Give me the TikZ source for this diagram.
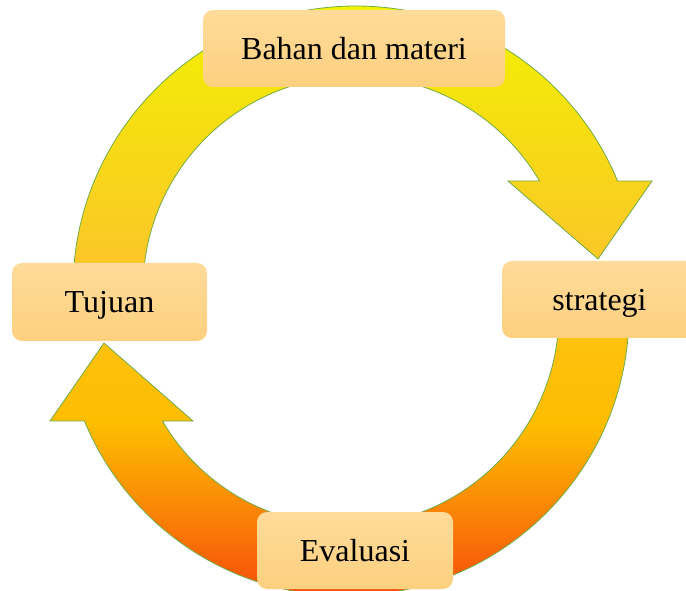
\documentclass[tikz,border=0pt]{standalone}
\usepackage{fontspec}
\setmainfont{Liberation Serif}
\definecolor{edge}{HTML}{70AD47}
\definecolor{yTop}{HTML}{F2F200}
\definecolor{yBot}{HTML}{FCC22C}
\definecolor{bA}{HTML}{FDC712}
\definecolor{bB}{HTML}{FDC20E}
\definecolor{bC}{HTML}{FDBD00}
\definecolor{bD}{HTML}{FCA004}
\definecolor{bE}{HTML}{FA7808}
\definecolor{bF}{HTML}{F85A0A}
\definecolor{bG}{HTML}{F64E0A}
\definecolor{boxTop}{HTML}{FFDB9A}
\definecolor{boxBot}{HTML}{FCD07E}
\pgfdeclareverticalshading{lowerarrow}{100bp}{color(0bp)=(bG); color(25bp)=(bG); color(28.7bp)=(bF); color(36.7bp)=(bE); color(47.3bp)=(bD); color(55.2bp)=(bC); color(69.7bp)=(bB); color(75bp)=(bA); color(100bp)=(bA)}
\tikzset{
  ringarrow/.style={draw=edge, line width=0.8pt, line join=miter},
  labelbox/.style={rounded corners=10pt, top color=boxTop, bottom color=boxBot,
    inner sep=0pt, minimum height=77pt, text height=22pt, text depth=0pt,
    font=\fontsize{32}{38}\selectfont, text=black}
}
\begin{document}
\begin{tikzpicture}[x=1pt,y=1pt]
\useasboundingbox (0,0) rectangle (686,590);
\clip (0,0) rectangle (686,590);
\coordinate (c1) at (356,301);
\coordinate (c2) at (346,277);
% upper arrow
\path[ringarrow, top color=yTop, bottom color=yBot]
  ([shift={(180:283)}]c1) arc[start angle=180, end angle=22.43, radius=283]
  -- (652,409) -- (598,331) -- (508,409)
  -- ([shift={(30.47:213)}]c1) arc[start angle=30.47, end angle=180, radius=213] -- cycle;
% lower arrow
\path[ringarrow, shading=lowerarrow]
  ([shift={(0:283)}]c2) arc[start angle=0, end angle=-157.57, radius=283]
  -- (50,169) -- (104,247) -- (193,169)
  -- ([shift={(-149.53:213)}]c2) arc[start angle=-149.53, end angle=0, radius=213] -- cycle;
% boxes
\node[labelbox, minimum width=302pt] (bahan) at (354,541.5) {Bahan dan materi};
\node[labelbox, minimum width=195pt] (strategi) at (599.5,290.5) {strategi};
\node[labelbox, minimum width=195pt, minimum height=78pt] (tujuan) at (109.5,288) {Tujuan};
\node[labelbox, minimum width=196pt] (evaluasi) at (355,39.5) {Evaluasi};
\end{tikzpicture}
\end{document}
